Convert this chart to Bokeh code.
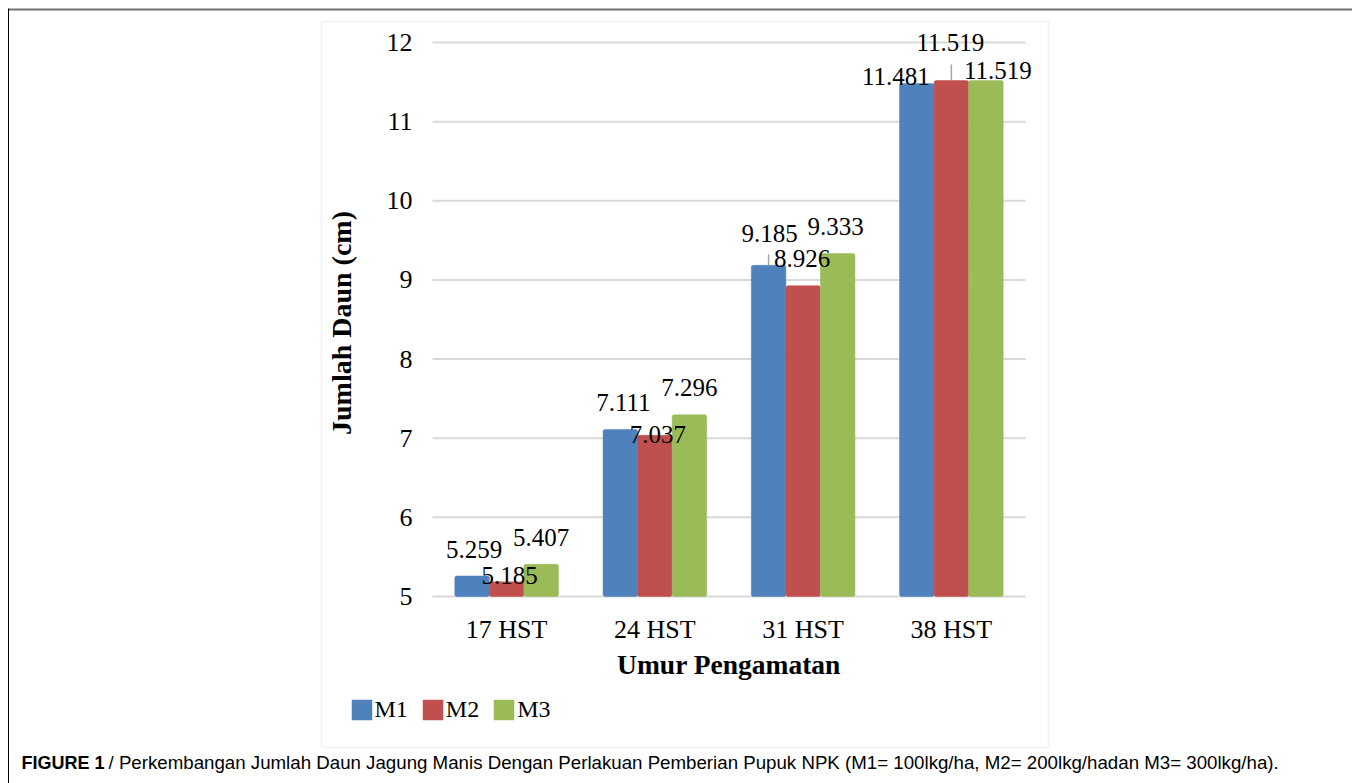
from bokeh.plotting import figure
from bokeh.models import (Range1d, FixedTicker, Label, BoxAnnotation,
                          Legend, LegendItem, ColumnDataSource, LinearAxis)
from bokeh.core.properties import value
from bokeh.embed import file_html
from bokeh.resources import INLINE

# ---------------- data ----------------
categories = ["17 HST", "24 HST", "31 HST", "38 HST"]
series = ["M1", "M2", "M3"]
m1 = [5.259, 7.111, 9.185, 11.481]
m2 = [5.185, 7.037, 8.926, 11.519]
m3 = [5.407, 7.296, 9.333, 11.519]
y_ticks = [5, 6, 7, 8, 9, 10, 11, 12]
x_title = "Umur Pengamatan"
y_title = "Jumlah Daun  (cm)"
caption_bold = "FIGURE 1"
caption_rest = " / Perkembangan Jumlah Daun Jagung Manis Dengan Perlakuan Pemberian Pupuk NPK (M1= 100lkg/ha, M2= 200lkg/hadan M3= 300lkg/ha)."

# ---------------- style / layout ----------------
colors = ["#4f81bd", "#c0504d", "#9bbb59"]
SERIF = "Liberation Serif"
SANS = "Liberation Sans"
W, H = 1352, 783
PL, PR, PT, PB = 432, 1025, 42, 596      # plot-area pixel box (canvas coords)
YMIN, YMAX = y_ticks[0], y_ticks[-1]
n = len(categories)
x_lo, x_hi = 0.5, n + 0.5
kx = (PR - PL) / (x_hi - x_lo)
ky = (PB - PT) / (YMAX - YMIN)
bw = 0.233
offsets = [-bw, 0.0, bw]
base_dy = -27
# data label nudges (px), Excel-like placement
lab_dx = {"M1": [2, 3, 1, -21], "M2": [3, 3, -1, -1], "M3": [0, 0, -2, 12]}
lab_dy = {"M1": [0, 0, -5, 20], "M2": [21, 26, 0, -11], "M3": [0, 0, 0, 17]}

p = figure(width=W, height=H, title=None,
           x_range=Range1d(x_lo - PL / kx, x_hi + (W - PR) / kx),
           y_range=Range1d(YMIN - (H - PB) / ky, YMAX + PT / ky),
           output_backend="svg", toolbar_location=None,
           x_axis_type=None, y_axis_type=None,
           min_border=0, min_border_left=0, min_border_right=0,
           min_border_top=0, min_border_bottom=0)
p.outline_line_color = None
p.background_fill_color = "white"
p.border_fill_color = "white"
p.xgrid.visible = False
p.ygrid.visible = False

# gridlines
grid = ColumnDataSource(dict(y=y_ticks, x0=[x_lo] * len(y_ticks), x1=[x_hi] * len(y_ticks)))
p.segment(x0="x0", x1="x1", y0="y", y1="y", source=grid, line_color="#d9d9d9", line_width=2)

vals = {"M1": m1, "M2": m2, "M3": m3}
xc = [i + 1 for i in range(n)]
renderers = []
for s, off, c in zip(series, offsets, colors):
    src = ColumnDataSource(dict(x=[x + off for x in xc], top=vals[s],
                                t=[f"{v:.3f}" for v in vals[s]],
                                dx=lab_dx[s], dy=[d + base_dy for d in lab_dy[s]]))
    r = p.vbar(x="x", top="top", bottom=YMIN, width=bw, source=src,
               fill_color=c, line_color=c, line_width=0.5, border_radius=2)
    renderers.append((s, r, src))

# leader lines (bar top up to its displaced label)
lead = ColumnDataSource(dict(
    x=[xc[2] + offsets[0], xc[3] + offsets[1]],
    y0=[m1[2], m2[3]],
    y1=[m1[2] + 11 / ky, m2[3] + 16 / ky]))
p.segment(x0="x", x1="x", y0="y0", y1="y1", source=lead, line_color="#a6a6a6", line_width=1.5)

for s, r, src in renderers:
    p.text(x="x", y="top", text="t", x_offset="dx", y_offset="dy", source=src,
           text_font=value(SERIF), text_font_size="25px", text_color="#000000",
           text_align="center", text_baseline="alphabetic")

# axes at fixed locations (drawn inside the full-canvas frame)
xaxis = LinearAxis(fixed_location=YMIN, ticker=FixedTicker(ticks=xc), bounds=(x_lo, x_hi),
                   major_label_overrides={x: c for x, c in zip(xc, categories)},
                   axis_label=x_title)
yaxis = LinearAxis(fixed_location=x_lo, ticker=FixedTicker(ticks=y_ticks), bounds=(YMIN, YMAX),
                   axis_label=y_title)
for ax in (xaxis, yaxis):
    ax.axis_line_color = None
    ax.major_tick_line_color = None
    ax.minor_tick_line_color = None
    ax.major_tick_out = 0
    ax.major_tick_in = 0
    ax.major_label_text_font = SERIF
    ax.major_label_text_font_size = "26px"
    ax.major_label_text_color = "#000000"
    ax.axis_label_text_font = SERIF
    ax.axis_label_text_font_style = "bold"
    ax.axis_label_text_color = "#000000"
xaxis.axis_label_text_font_size = "27.5px"
yaxis.axis_label_text_font_size = "28px"
yaxis.major_label_standoff = 20
xaxis.major_label_standoff = 18
xaxis.axis_label_standoff = 2
yaxis.axis_label_standoff = 27
p.add_layout(xaxis, "below")
p.add_layout(yaxis, "left")

# legend
legend = Legend(items=[LegendItem(label=s, renderers=[r]) for s, r, _ in renderers],
                orientation="horizontal", location=(348.5, H - 723),
                glyph_width=25, glyph_height=25, label_standoff=1, spacing=12,
                label_height=25,
                padding=0, margin=0, border_line_color=None, background_fill_alpha=0,
                label_text_font=SERIF, label_text_font_size="24px", label_text_color="#000000")
p.add_layout(legend, "center")

# frames (chart area and figure box), in canvas pixels
def sy(cy):
    return H - cy

def box(l, r, t, b, **kw):
    return BoxAnnotation(left=l, right=r, top=sy(t), bottom=sy(b),
                         left_units="screen", right_units="screen",
                         top_units="screen", bottom_units="screen", **kw)

p.add_layout(box(321, 1048, 21, 747, fill_alpha=0, line_color="#d9d9d9", line_width=2))
p.add_layout(box(8, W, 8, 10, fill_color="#707070", fill_alpha=1, line_color=None))
p.add_layout(box(7.5, 8.5, 8, H, fill_color="#000000", fill_alpha=1, line_color=None))

# caption
p.add_layout(Label(x=21, y=sy(762), x_units="screen", y_units="screen", text=caption_bold,
                   text_font=SANS, text_font_size="18px", text_font_style="bold",
                   text_color="#000000", text_baseline="alphabetic"))
p.add_layout(Label(x=108, y=sy(762), x_units="screen", y_units="screen", text=caption_rest,
                   text_font=SANS, text_font_size="18.7px", text_color="#000000",
                   text_baseline="alphabetic"))

open("out.html", "w").write(file_html(p, INLINE))
